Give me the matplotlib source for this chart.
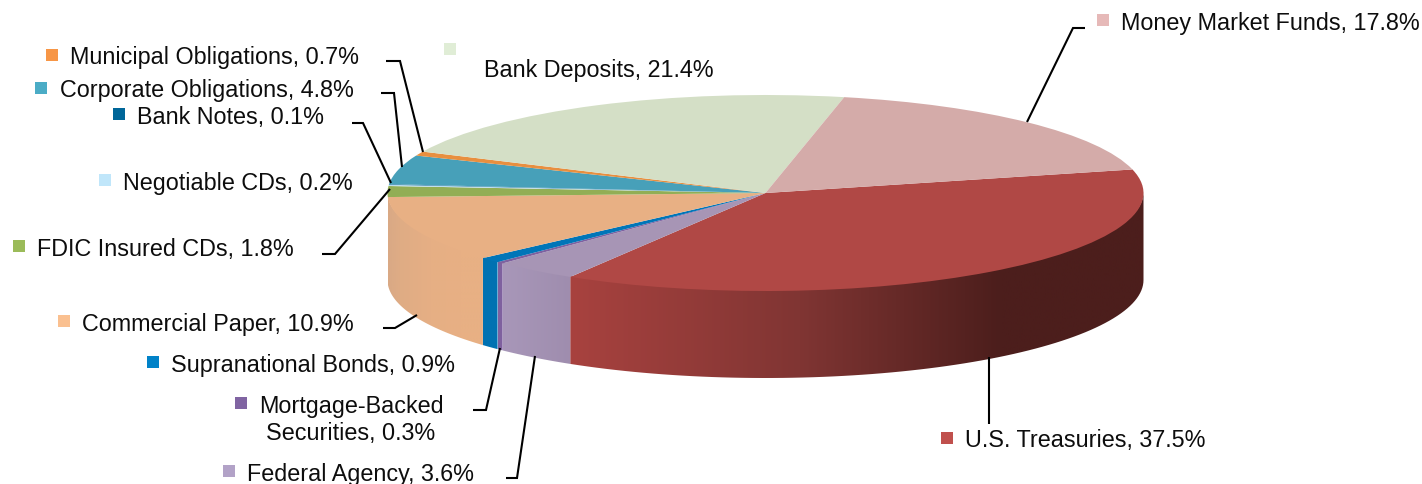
import numpy as np
import matplotlib
matplotlib.use("Agg")
import matplotlib.pyplot as plt
from matplotlib.colors import LinearSegmentedColormap
from matplotlib.patches import Polygon, Rectangle

plt.rcParams['font.family'] = ['Liberation Sans', 'DejaVu Sans']

categories = ["U.S. Treasuries", "Federal Agency", "Mortgage-Backed\nSecurities", "Supranational Bonds",
              "Commercial Paper", "FDIC Insured CDs", "Negotiable CDs", "Bank Notes",
              "Corporate Obligations", "Municipal Obligations", "Bank Deposits", "Money Market Funds"]
values = [37.5, 3.6, 0.3, 0.9, 10.9, 1.8, 0.2, 0.1, 4.8, 0.7, 21.4, 17.8]
top_colors = ["#B04845", "#A795B5", "#7F619F", "#0075B8", "#E8B084", "#92AE55",
              "#BBDDEE", "#0A6699", "#47A0B9", "#E88F3F", "#D4DFC6", "#D4ABA9"]
key_colors = ["#C0504D", "#B2A2C7", "#8064A2", "#0082C8", "#FAC090", "#9BBB59",
              "#C0E6FA", "#006699", "#4BACC6", "#F79646", "#E0EDD6", "#E6B9B8"]
wall_stops = [
    [(0.0, "#A8423F"), (0.40, "#803533"), (0.75, "#4C1E1C"), (1.0, "#4C1E1C")],
    [(0.0, "#A897B9"), (1.0, "#9F8DAE")],
    [(0.0, "#7F619F"), (1.0, "#7F619F")],
    [(0.0, "#0072B2"), (1.0, "#0072B2")],
    [(0.0, "#D9A985"), (0.12, "#DFAC85"), (0.45, "#E6AF84"), (0.75, "#E8B084"), (1.0, "#E8B084")],
    [(0.0, "#92AE55"), (1.0, "#92AE55")],
]

W, H = 1422, 485
CX, CY, RX, RY, DEPTH = 765.5, 194, 378, 98, 87
START = 13.9

fig = plt.figure(figsize=(W / 100, H / 100), dpi=100, facecolor="white")

# Pie axes: unit circle is stretched onto the tilted ellipse
ax = fig.add_axes([0, 0, 1, 1], zorder=1)
wedges, _ = ax.pie(values, colors=top_colors, startangle=START, counterclock=False,
                   wedgeprops=dict(linewidth=0))
ax.set_aspect('auto')
xl = ((0 - CX) / RX, (W - CX) / RX)
yl = ((CY - H) / RY, CY / RY)
for w in wedges:
    w.set_zorder(5)

depth = DEPTH / RY
for w, stops in zip(wedges, wall_stops):
    a0, a1 = max(w.theta1, -180.0), min(w.theta2, 0.0)
    if a1 <= a0:
        continue
    t = np.radians(np.linspace(a0, a1, 80))
    x, y = np.cos(t), np.sin(t)
    poly = np.vstack([np.column_stack([x, y + 0.012]),
                      np.column_stack([x[::-1], y[::-1] - depth])])
    patch = Polygon(poly, closed=True, facecolor="none", edgecolor="none", zorder=2)
    ax.add_patch(patch)
    cmap = LinearSegmentedColormap.from_list("wall", stops)
    grad = np.linspace(0, 1, 256).reshape(1, -1)
    im = ax.imshow(grad, cmap=cmap, aspect='auto', zorder=2, vmin=0, vmax=1,
                   extent=(x.min(), x.max(), -2, 2), interpolation='bilinear')
    im.set_clip_path(patch)
ax.set_xlim(*xl)
ax.set_ylim(*yl)
ax.set_aspect('auto')
ax.axis('off')

# Overlay axes in pixel units for labels, keys and leader lines
ov = fig.add_axes([0, 0, 1, 1], zorder=2)
ov.set_xlim(0, W)
ov.set_ylim(H, 0)
ov.axis('off')
ov.patch.set_alpha(0)

# x of key square, y of key square top, x of text, baseline y, leader path
layout = {
    "U.S. Treasuries": (941, 433, 965, 447, [(989, 358), (989, 425)]),
    "Federal Agency": (223, 466, 247, 481, [(506, 479), (517, 479), (535, 357)]),
    "Mortgage-Backed\nSecurities": (235, 398, 259, 413, [(473, 411), (486, 411), (500, 349)]),
    "Supranational Bonds": (147, 357, 171, 372, None),
    "Commercial Paper": (58, 316, 82, 331, [(383, 329), (395, 329), (417, 316)]),
    "FDIC Insured CDs": (13, 241, 37, 256, [(322, 255), (335, 255), (390, 190)]),
    "Negotiable CDs": (99, 175, 123, 190, None),
    "Bank Notes": (113, 109, 137, 124, [(352, 124), (363, 124), (391, 184)]),
    "Corporate Obligations": (35, 83, 60, 97, [(381, 94), (394, 94), (402, 168)]),
    "Municipal Obligations": (46, 50, 70, 64, [(386, 62), (400, 62), (423, 153)]),
    "Bank Deposits": (444, 44, 484, 77, None),
    "Money Market Funds": (1097, 15, 1121, 30, [(1085, 29), (1073, 29), (1027, 123)]),
}

FS = 16.8
for name, val, kc in zip(categories, values, key_colors):
    kx, ky, tx, ty, path = layout[name]
    ov.add_patch(Rectangle((kx, ky), 12, 12, facecolor=kc, edgecolor="none"))
    if "\n" in name:
        l1, l2 = name.split("\n")
        ov.text(351, ty, l1, ha="center", va="baseline", fontsize=FS, color="#0D0D0D")
        ov.text(351, ty + 27, f"{l2}, {val}%", ha="center", va="baseline", fontsize=FS, color="#0D0D0D")
    else:
        ov.text(tx, ty, f"{name}, {val}%", ha="left", va="baseline", fontsize=FS, color="#0D0D0D")
    if path:
        px, py = zip(*path)
        ov.plot(px, py, color="black", lw=1.5, solid_capstyle="butt", solid_joinstyle="miter", zorder=6)

fig.savefig("out.png", dpi=100, facecolor="white")
